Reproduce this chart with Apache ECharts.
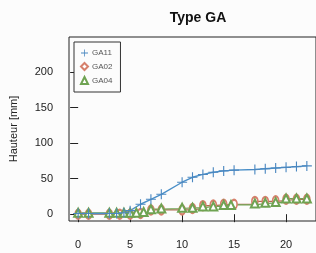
<!DOCTYPE html>
<html>
<head>
<meta charset="utf-8">
<script src="https://cdn.jsdelivr.net/npm/echarts@6/dist/echarts.min.js"></script>
<style>
  html, body { margin: 0; padding: 0; background: #fcfcfc; }
  #chart { width: 316px; height: 253px; }
</style>
</head>
<body>
<div id="chart"></div>
<script>
// days / hauteur [mm]
const ga11Days = [0, 1, 3, 3.7, 4.4, 5, 6, 7, 8, 10, 11, 12, 13, 14, 15, 17, 18, 19, 20, 21, 22]
const ga11Vals = [1, 1, 1, 1, 2, 5, 14, 21, 28, 45, 52, 56, 59, 61, 62, 63, 64, 65, 66, 67, 68]
const ga02Days = [0, 1, 3, 4, 5, 6, 7, 8, 10, 11, 12, 13, 14, 15, 17, 18, 19, 20, 21, 22]
const ga02Vals = [0, 0, 0, 0, 0, 1, 6, 6, 6, 8, 12, 13, 14, 14, 18, 18, 19, 21, 21, 21]
const ga04Days = [0, 1, 3, 3.7, 4.4, 5, 5.6, 6.3, 7, 8, 10, 11, 12, 13, 14, 14.7, 17, 18, 19, 20, 21, 22]
const ga04Vals = [2, 2, 2, 2, 2, 2, 2, 3, 7, 8, 9, 9, 11, 11, 13, 13, 15, 16, 17, 22, 22, 22]
const xTicks = [0, 5, 10, 15, 20]
const yTicks = [0, 50, 100, 150, 200]

const plus = 'path://M4,0h1v9h-1zM0,4h9v1h-9z'

const pairs = (xs, ys) => xs.map((x, i) => [x, ys[i]])

const chart = echarts.init(document.getElementById('chart'))
const labelFont = { fontFamily: 'Liberation Sans', fontSize: 11, color: '#222' }

chart.setOption({
  animation: false,
  backgroundColor: '#fcfcfc',
  title: {
    text: 'Type GA',
    left: 193,
    top: 6,
    textAlign: 'center',
    textStyle: { fontFamily: 'Liberation Sans', fontSize: 14, fontWeight: 'bold', color: '#111' }
  },
  legend: {
    orient: 'vertical',
    left: 74,
    top: 42,
    padding: [7, 8, 7, 6],
    itemGap: 5,
    itemWidth: 7,
    itemHeight: 7,
    borderColor: '#333',
    borderWidth: 1,
    backgroundColor: '#fcfcfc',
    textStyle: { fontFamily: 'Liberation Sans', fontSize: 8, color: '#555', padding: [0, 0, 0, -1] },
    data: [
      { name: 'GA11', icon: plus },
      { name: 'GA02', icon: 'emptyDiamond' },
      { name: 'GA04', icon: 'emptyTriangle' }
    ]
  },
  grid: {
    left: 69,
    top: 37,
    width: 248,
    height: 184,
    show: true,
    borderColor: '#222',
    borderWidth: 1
  },
  xAxis: {
    type: 'value',
    min: -0.88,
    max: 22.88,
    axisLine: { show: false },
    axisTick: { show: true, length: 8, lineStyle: { color: '#222' }, customValues: xTicks },
    axisLabel: Object.assign({ margin: 18, customValues: xTicks }, labelFont),
    splitLine: { show: false }
  },
  yAxis: {
    type: 'value',
    min: -9.6,
    max: 249.6,
    name: 'Hauteur [mm]',
    nameLocation: 'middle',
    nameGap: 50,
    nameTextStyle: labelFont,
    axisLine: { show: false },
    axisTick: { show: true, length: 8, lineStyle: { color: '#222' }, customValues: yTicks },
    axisLabel: Object.assign({ margin: 16, customValues: yTicks }, labelFont),
    splitLine: { show: false }
  },
  series: [
    {
      name: 'GA02',
      type: 'line',
      step: 'end',
      data: pairs(ga02Days, ga02Vals),
      symbol: 'emptyCircle',
      symbolSize: [6, 9],
      color: '#d6806c',
      lineStyle: { width: 1.2, color: '#b06a50' },
      itemStyle: { color: '#d6806c', borderWidth: 1 }
    },
    {
      name: 'GA04',
      type: 'line',
      step: 'end',
      data: pairs(ga04Days, ga04Vals),
      symbol: 'emptyTriangle',
      symbolSize: 8,
      color: '#6fa352',
      lineStyle: { width: 1.2, color: '#6fa352' },
      itemStyle: { color: '#6fa352', borderWidth: 1 }
    },
    {
      name: 'GA11',
      type: 'line',
      data: pairs(ga11Days, ga11Vals),
      symbol: plus,
      symbolSize: 10,
      color: '#4a87c0',
      lineStyle: { width: 1.4, color: '#4a8fc8' },
      itemStyle: { color: '#4a87c0' }
    }
  ]
})
</script>
</body>
</html>
